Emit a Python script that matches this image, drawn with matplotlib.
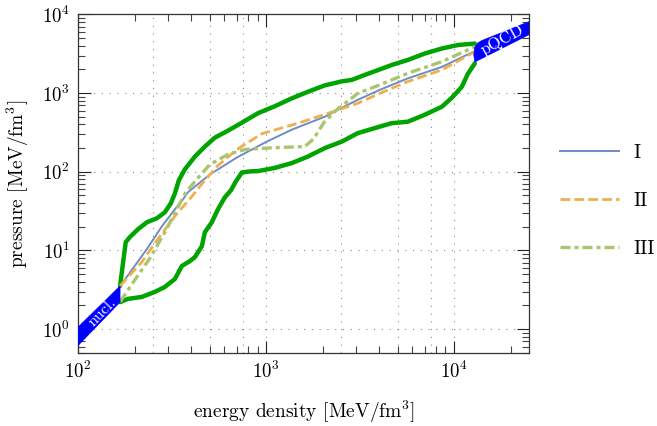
import matplotlib
matplotlib.use("Agg")
import matplotlib.pyplot as plt
import numpy as np

plt.rcParams['font.family'] = 'serif'
plt.rcParams['font.serif'] = ['cmr10']
plt.rcParams['mathtext.fontset'] = 'cm'
plt.rcParams['axes.formatter.use_mathtext'] = True

# envelope (green)
upper_eps = [167, 179, 188, 208, 232, 262, 289, 311, 327, 343, 369, 418, 472, 534, 626, 743,
             904, 1112, 1370, 1667, 2052, 2527, 2857, 3350, 4025, 4662, 5672, 6986, 8604, 10464, 12886]
upper_p = [3.53, 12.7, 14.7, 18.6, 22.8, 25.6, 30.5, 39.7, 53.1, 77.6, 107, 156, 209, 272, 333, 421,
           555, 681, 859, 1039, 1255, 1410, 1473, 1705, 2002, 2282, 2640, 3190, 3690, 4087, 4270]
lower_eps = [167, 184, 218, 256, 289, 327, 356, 393, 418, 455, 472, 514, 554, 603, 649, 690, 743,
             819, 904, 1112, 1370, 1667, 2052, 2527, 3075, 4025, 4662, 5672, 6986, 8604, 9723,
             10990, 11830, 12886]
lower_p = [2.20, 2.42, 2.56, 2.97, 3.43, 4.33, 6.33, 7.32, 8.23, 11.3, 17.0, 22.8, 33.3, 47.3, 58.0,
           75.4, 98.0, 101, 102, 112, 129, 156, 200, 242, 310, 375, 415, 433, 531, 671, 872, 1202,
           1755, 2384]

# example EoSs
eos1_eps = [167, 232, 279, 327, 361, 383, 502, 699, 1009, 1370, 2052, 2527, 3075, 4025, 5672, 8604, 12886]
eos1_p = [3.5, 10.4, 20.3, 33.3, 44.6, 54.7, 92.4, 152, 242, 343, 501, 651, 823, 1101, 1540, 2153, 3430]
eos2_eps = [167, 218, 265, 327, 403, 444, 547, 699, 949, 1511, 2263, 3075, 4025, 5672, 8604, 12886]
eos2_p = [3.53, 7.11, 13.9, 27.2, 48.7, 65.1, 117, 192, 305, 421, 580, 743, 994, 1402, 1972, 3364]
eos3_eps = [167, 200, 241, 289, 339, 374, 418, 502, 626, 770, 1009, 1337, 1606, 1793, 2027, 2377,
            3075, 4025, 5672, 8604, 12886]
eos3_p = [2.22, 4.21, 7.99, 17.0, 35.3, 54.7, 75.4, 124, 166, 192, 200, 206, 209, 264, 421, 615,
          994, 1274, 1791, 2512, 3890]
labels = ['I', 'II', 'III']

# limits of validity
nucl_eps = [100, 167, 167, 100]
nucl_p = [1.06, 3.53, 2.20, 0.62]
pqcd_eps = [14040, 26000, 26000, 12886, 12730, 12886, 13370]
pqcd_p = [4660, 8400, 5800, 2490, 3053, 3855, 4333]

fig = plt.figure(figsize=(6.57, 4.26), dpi=100)
ax = fig.add_axes([0.119, 0.172, 0.686, 0.794])

green = '#00a400'
ax.plot(upper_eps, upper_p, color=green, lw=3.2, zorder=3, solid_capstyle='round')
ax.plot(lower_eps, lower_p, color=green, lw=3.2, zorder=3, solid_capstyle='round')

l1, = ax.plot(eos1_eps, eos1_p, color='#6d8cc6', lw=1.4, zorder=4)
l2, = ax.plot(eos2_eps, eos2_p, color='#efaf4e', lw=2.0, ls=(0, (3.5, 1.5)), zorder=4)
l3, = ax.plot(eos3_eps, eos3_p, color='#a9c66e', lw=2.4, ls=(0, (3, 1.2, 1.2, 1.2)), zorder=4)

ax.fill(nucl_eps, nucl_p, color='#0000ff', zorder=5, lw=0.5)
ax.fill(pqcd_eps, pqcd_p, color='#0000ff', zorder=5, lw=0.5)
ax.text(134, 1.66, 'nucl.', color='white', fontsize=11.5, rotation=46,
        ha='center', va='center', zorder=6, rotation_mode='anchor')
ax.text(18100, 4750, 'pQCD', color='white', fontsize=12, rotation=29,
        ha='center', va='center', zorder=6, rotation_mode='anchor')

ax.set_xscale('log')
ax.set_yscale('log')
ax.set_xlim(100, 25000)
ax.set_ylim(0.5, 1e4)

# grid
ax.yaxis.grid(True, which='major', color='#888888', lw=0.8, ls=(0, (1, 6)))
for v in [250, 500, 750, 1000, 2500, 5000, 7500, 10000]:
    ax.axvline(v, color='#888888', lw=0.8, ls=(0, (1, 6)), zorder=1)

ax.tick_params(which='both', direction='in', top=True, right=True, labelsize=13.5)
ax.tick_params(which='major', length=9, width=0.8, color='#222222', pad=6)
ax.tick_params(which='minor', length=5, width=0.8, color='#444444')
ax.xaxis.set_minor_formatter(matplotlib.ticker.NullFormatter())
ax.yaxis.set_minor_formatter(matplotlib.ticker.NullFormatter())
for s in ax.spines.values():
    s.set_color('#333333')
    s.set_linewidth(0.9)

ax.set_xlabel('energy density [MeV/fm$^3$]', fontsize=14, labelpad=12)
ax.set_ylabel('pressure [MeV/fm$^3$]', fontsize=14, labelpad=8)

fig.legend([l1, l2, l3], labels, loc='center left', bbox_to_anchor=(0.826, 0.529),
           frameon=False, fontsize=14, handlelength=3.05, labelspacing=1.55, handletextpad=0.7)

fig.savefig('out.png', dpi=100)
